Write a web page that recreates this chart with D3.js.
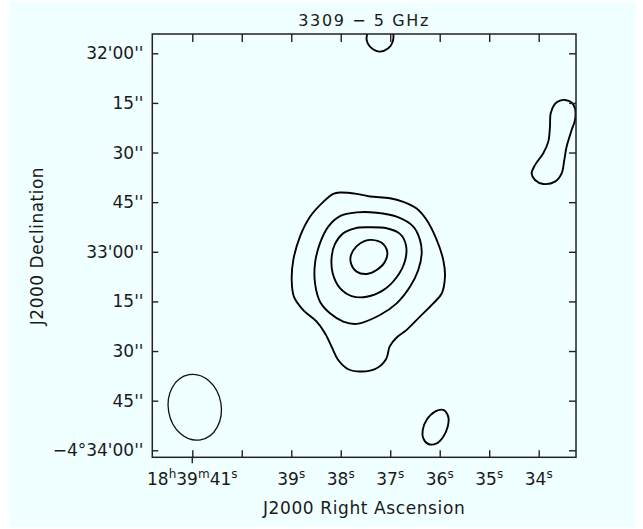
<!DOCTYPE html>
<html>
<head>
<meta charset="utf-8">
<script src="https://cdn.jsdelivr.net/npm/d3@7"></script>
<style>
  html, body { margin: 0; padding: 0; background: #ffffff; }
  svg { display: block; }
  text { font-family: "DejaVu Sans", sans-serif; fill: #1a1a1a; }
</style>
</head>
<body>
<svg id="chart" width="643" height="529"></svg>
<script>
// ---- Axis definitions --------------------------------------------------
// Right ascension: seconds of time past 18h39m
const raTicks = [41, 40, 39, 38, 37, 36, 35, 34];
const raTickLabels = ["18h39m41s", "", "39s", "38s", "37s", "36s", "35s", "34s"];
// Declination: arcseconds south of -4°32'00"
const decTicks = [0, 15, 30, 45, 60, 75, 90, 105, 120];
const decTickLabels = ["32'00''", "15''", "30''", "45''", "33'00''", "15''", "30''", "45''", "\u22124\u00b034'00''"];

const raDomain = [41.808, 33.246];
const decDomain = [-5.83, 122.12];

const titleText = "3309 \u2212 5 GHz";
const xTitle = "J2000 Right Ascension";
const yTitle = "J2000 Declination";

// ---- Contours: [RA seconds, Dec arcsec south of -4°32'00"] -------------
const contourOuter = [
  [38.015, 42.1], [37.678, 42.5], [37.409, 43.3], [37.005, 43.8], [36.736, 44.9],
  [36.466, 46.9], [36.263, 50.4], [36.061, 56.4], [35.928, 62.5], [35.894, 67.5],
  [35.960, 72.6], [36.130, 75.6], [36.399, 79.6], [36.668, 83.6], [36.870, 85.9],
  [37.010, 88.6], [37.080, 92.3], [37.274, 95.2], [37.577, 96.2], [37.848, 95.5],
  [38.050, 92.7], [38.183, 88.7], [38.318, 84.6], [38.486, 81.1], [38.757, 77.6],
  [38.945, 73.6], [38.991, 68.5], [38.959, 62.5], [38.824, 55.4], [38.621, 49.4],
  [38.353, 44.9], [38.151, 42.5]
];
const contourSecond = [
  [37.678, 48.1], [37.274, 48.2], [36.870, 49.4], [36.534, 52.4], [36.399, 56.4],
  [36.364, 60.5], [36.433, 65.5], [36.601, 70.6], [36.870, 75.6], [37.207, 79.1],
  [37.678, 81.8], [37.949, 81.1], [38.217, 78.6], [38.419, 75.1], [38.520, 69.5],
  [38.520, 63.5], [38.419, 57.4], [38.252, 52.4], [38.015, 49.2]
];
const contourThird = [
  [37.476, 52.6], [37.072, 52.9], [36.803, 54.6], [36.682, 58.0], [36.702, 62.8],
  [36.870, 67.7], [37.140, 71.6], [37.476, 73.6], [37.779, 73.4], [38.015, 71.0],
  [38.163, 66.5], [38.183, 61.5], [38.116, 57.6], [37.949, 54.4], [37.712, 52.9]
];
const contourPeak = [
  [37.375, 56.4], [37.173, 57.3], [37.060, 60.0], [37.106, 63.0], [37.274, 65.5],
  [37.476, 66.7], [37.678, 66.0], [37.793, 63.5], [37.793, 61.0], [37.678, 58.3],
  [37.510, 56.7]
];
const contourNorth = [
  [37.464, -6.0], [37.476, -4.0], [37.409, -2.0], [37.221, -0.5], [37.039, -1.5],
  [36.950, -3.5], [36.938, -6.0], [37.000, -9.0], [37.200, -10.5], [37.400, -9.0]
];
const contourWest = [
  [33.469, 14.1], [33.334, 14.9], [33.267, 16.6], [33.267, 20.2], [33.334, 23.2],
  [33.435, 28.2], [33.483, 32.3], [33.536, 36.3], [33.671, 38.8], [33.907, 39.5],
  [34.075, 38.3], [34.142, 36.3], [34.075, 33.8], [33.907, 30.2], [33.806, 26.7],
  [33.772, 22.2], [33.758, 18.1], [33.671, 15.3], [33.570, 14.3]
];
const contourSouth = [
  [35.928, 107.8], [35.827, 109.9], [35.839, 112.9], [35.928, 115.9], [36.061, 117.9],
  [36.231, 118.1], [36.332, 116.4], [36.344, 113.9], [36.263, 110.8], [36.096, 108.3]
];
const contours = [contourOuter, contourSecond, contourThird, contourPeak,
                  contourNorth, contourWest, contourSouth];

// Restoring beam: centre, FWHM axes (arcsec), position angle (deg, N through E)
const beamCenter = [40.95, 107];
const beamMajor = 20;
const beamMinor = 16;
const beamPA = 10;

// ---- Layout ------------------------------------------------------------
const plot = { left: 152.3, right: 576, top: 34, bottom: 457.3 };
const svg = d3.select("#chart");

svg.append("rect")
  .attr("x", 9).attr("y", 2).attr("width", 627).attr("height", 525)
  .attr("fill", "#f0ffff");

const x = d3.scaleLinear().domain(raDomain).range([plot.left, plot.right]);
const y = d3.scaleLinear().domain(decDomain).range([plot.top, plot.bottom]);
const pxPerArcsec = Math.abs(y(1) - y(0));

svg.append("defs").append("clipPath").attr("id", "plotClip")
  .append("rect")
  .attr("x", plot.left).attr("y", plot.top)
  .attr("width", plot.right - plot.left).attr("height", plot.bottom - plot.top);

// ---- Contours ----------------------------------------------------------
const line = d3.line()
  .x(d => x(d[0]))
  .y(d => y(d[1]))
  .curve(d3.curveCatmullRomClosed.alpha(0.5));

svg.append("g").attr("clip-path", "url(#plotClip)")
  .selectAll("path")
  .data(contours)
  .join("path")
  .attr("d", line)
  .attr("fill", "none")
  .attr("stroke", "#000")
  .attr("stroke-width", 1.9)
  .attr("stroke-linejoin", "round");

// ---- Beam ellipse ------------------------------------------------------
svg.append("ellipse")
  .attr("cx", 0).attr("cy", 0)
  .attr("rx", beamMinor / 2 * pxPerArcsec)
  .attr("ry", beamMajor / 2 * pxPerArcsec)
  .attr("transform", `translate(${x(beamCenter[0])},${y(beamCenter[1])}) rotate(${-beamPA})`)
  .attr("fill", "none")
  .attr("stroke", "#111")
  .attr("stroke-width", 1.3);

// ---- Frame and ticks ---------------------------------------------------
const tickStyle = g => {
  g.select(".domain").remove();
  g.selectAll("line").attr("stroke", "#222").attr("stroke-width", 1.4);
  g.selectAll("text").remove();
};

svg.append("g").attr("transform", `translate(0,${plot.bottom})`)
  .call(d3.axisTop(x).tickValues(raTicks).tickSize(7)).call(tickStyle);
svg.append("g").attr("transform", `translate(0,${plot.top})`)
  .call(d3.axisBottom(x).tickValues(raTicks).tickSize(8)).call(tickStyle);
svg.append("g").attr("transform", `translate(${plot.left},0)`)
  .call(d3.axisRight(y).tickValues(decTicks).tickSize(6)).call(tickStyle);
svg.append("g").attr("transform", `translate(${plot.right},0)`)
  .call(d3.axisLeft(y).tickValues(decTicks).tickSize(7)).call(tickStyle);

// the labelled hour/minute tick runs across the lower edge
svg.append("line")
  .attr("x1", x(raTicks[0])).attr("x2", x(raTicks[0]))
  .attr("y1", plot.bottom).attr("y2", plot.bottom + 6)
  .attr("stroke", "#222").attr("stroke-width", 1.4);

svg.append("rect")
  .attr("x", plot.left).attr("y", plot.top)
  .attr("width", plot.right - plot.left).attr("height", plot.bottom - plot.top)
  .attr("fill", "none").attr("stroke", "#222").attr("stroke-width", 1.5);

// ---- Tick labels -------------------------------------------------------
const xLab = svg.append("g");
raTicks.forEach((t, i) => {
  const lab = raTickLabels[i];
  if (!lab) return;
  const txt = xLab.append("text")
    .attr("x", x(t)).attr("y", 485)
    .attr("text-anchor", "middle")
    .style("font-size", "17px");
  const parts = lab.match(/\d+|[hms]/g);
  let raised = false;
  parts.forEach(p => {
    const sup = !/\d/.test(p);
    const ts = txt.append("tspan").text(p);
    if (sup) {
      ts.attr("dy", -7).style("font-size", "12px");
      raised = true;
    } else if (raised) {
      ts.attr("dy", 7);
      raised = false;
    }
  });
});

svg.append("g").selectAll("text")
  .data(decTicks)
  .join("text")
  .attr("x", 143.5)
  .attr("y", d => y(d) + 6)
  .attr("text-anchor", "end")
  .style("font-size", "17px")
  .text((d, i) => decTickLabels[i]);

// ---- Titles ------------------------------------------------------------
svg.append("text")
  .attr("x", (plot.left + plot.right) / 2).attr("y", 26)
  .attr("text-anchor", "middle")
  .style("font-size", "16px").style("letter-spacing", "1.6px")
  .text(titleText);

svg.append("text")
  .attr("x", (plot.left + plot.right) / 2).attr("y", 514)
  .attr("text-anchor", "middle")
  .style("font-size", "17px").style("letter-spacing", "0.6px")
  .text(xTitle);

svg.append("text")
  .attr("transform", "translate(43,246) rotate(-90)")
  .attr("text-anchor", "middle")
  .style("font-size", "17px").style("letter-spacing", "0.5px")
  .text(yTitle);
</script>
</body>
</html>
